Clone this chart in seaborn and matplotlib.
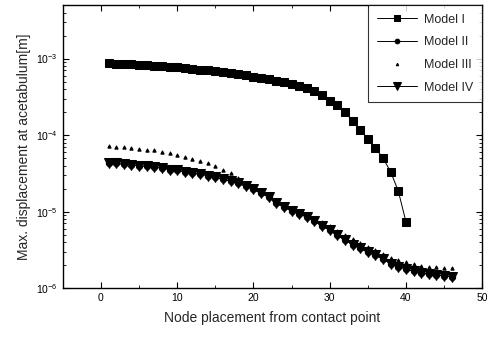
import matplotlib
import numpy
import pandas as pd
import seaborn as sns
from matplotlib import pyplot
from matplotlib.ticker import LogLocator, MultipleLocator, NullFormatter

# node positions
nodes_i = list(range(1, 41))
nodes_all = list(range(1, 47))

# log10 of max displacement [m]
model_1 = [-3.06, -3.065, -3.07, -3.075, -3.08, -3.09, -3.095, -3.10, -3.11, -3.115,
           -3.125, -3.135, -3.143, -3.155, -3.165, -3.18, -3.19, -3.205, -3.22, -3.235,
           -3.25, -3.27, -3.29, -3.31, -3.335, -3.36, -3.39, -3.43, -3.48, -3.55,
           -3.61, -3.70, -3.81, -3.93, -4.05, -4.17, -4.30, -4.48, -4.73, -5.13]
model_2 = [-4.37, -4.37, -4.38, -4.39, -4.40, -4.41, -4.42, -4.43, -4.45, -4.46,
           -4.48, -4.50, -4.51, -4.53, -4.55, -4.58, -4.60, -4.63, -4.67, -4.71,
           -4.76, -4.81, -4.89, -4.94, -4.99, -5.03, -5.07, -5.12, -5.19, -5.24,
           -5.31, -5.37, -5.43, -5.48, -5.53, -5.57, -5.62, -5.68, -5.72, -5.75,
           -5.78, -5.80, -5.82, -5.83, -5.84, -5.85]
model_3 = [-4.14, -4.15, -4.16, -4.17, -4.18, -4.19, -4.20, -4.22, -4.24, -4.26,
           -4.28, -4.31, -4.34, -4.37, -4.41, -4.45, -4.50, -4.56, -4.63, -4.69,
           -4.74, -4.79, -4.85, -4.90, -4.95, -4.99, -5.03, -5.08, -5.14, -5.19,
           -5.25, -5.30, -5.36, -5.41, -5.46, -5.50, -5.55, -5.60, -5.63, -5.66,
           -5.69, -5.71, -5.72, -5.73, -5.74, -5.74]
model_4 = [-4.37, -4.37, -4.38, -4.39, -4.40, -4.41, -4.42, -4.43, -4.45, -4.46,
           -4.48, -4.50, -4.51, -4.53, -4.55, -4.58, -4.60, -4.63, -4.67, -4.71,
           -4.76, -4.81, -4.89, -4.94, -4.99, -5.03, -5.07, -5.12, -5.19, -5.24,
           -5.31, -5.37, -5.43, -5.48, -5.53, -5.57, -5.62, -5.68, -5.72, -5.75,
           -5.78, -5.80, -5.82, -5.83, -5.84, -5.85]

sns.set_style("ticks")
matplotlib.rcParams['font.family'] = ['Liberation Sans', 'DejaVu Sans']
matplotlib.rcParams['mathtext.fontset'] = 'custom'
matplotlib.rcParams['mathtext.rm'] = 'Liberation Sans'

fig = pyplot.figure(figsize=(4.95, 3.41), dpi=100)
ax = fig.add_axes([0.127, 0.155, 0.847, 0.830])

df1 = pd.DataFrame({"x": nodes_i, "y": 10 ** numpy.array(model_1)})
df2 = pd.DataFrame({"x": nodes_all, "y": 10 ** numpy.array(model_2)})
df3 = pd.DataFrame({"x": nodes_all, "y": 10 ** numpy.array(model_3)})
df4 = pd.DataFrame({"x": nodes_all, "y": 10 ** numpy.array(model_4)})

sns.lineplot(data=df1, x="x", y="y", color="black", lw=0.7, marker="s", markersize=5.5,
             markeredgecolor="black", label="Model I", ax=ax)
sns.lineplot(data=df2, x="x", y="y", color="black", lw=0.7, marker="o", markersize=4.5,
             markeredgecolor="black", label="Model II", ax=ax)
sns.lineplot(data=df3, x="x", y="y", color="black", lw=0, marker="^", markersize=2.4,
             markeredgecolor="black", label="Model III", ax=ax)
sns.lineplot(data=df4, x="x", y="y", color="black", lw=0.7, marker="v", markersize=6.8,
             markeredgecolor="black", label="Model IV", ax=ax)

ax.set_yscale("log")
ax.set_xlim(-5, 50)
ax.set_ylim(1e-6, 5e-3)
ax.xaxis.set_major_locator(MultipleLocator(10))
ax.xaxis.set_minor_locator(MultipleLocator(5))
ax.yaxis.set_major_locator(LogLocator(base=10))
ax.yaxis.set_minor_locator(LogLocator(base=10, subs=numpy.arange(2, 10)))
ax.yaxis.set_minor_formatter(NullFormatter())
ax.tick_params(which="both", direction="in", top=True, right=True, labelsize=7.5, colors="black")
ax.tick_params(which="major", length=4, width=0.8)
ax.tick_params(which="minor", length=2, width=0.6)
for s in ax.spines.values():
    s.set_linewidth(1.0)
    s.set_color("black")

ax.set_xlabel("Node placement from contact point", fontsize=10, labelpad=6)
ax.set_ylabel("Max. displacement at acetabulum[m]", fontsize=10, labelpad=4)

leg = ax.legend(loc="upper right", fontsize=9, frameon=True, fancybox=False,
                edgecolor="black", borderaxespad=0.0, handlelength=3.2,
                labelspacing=0.85, borderpad=0.7, handletextpad=0.6, markerscale=0.75)
leg.get_frame().set_linewidth(0.8)

fig.savefig("out.png", dpi=100)
